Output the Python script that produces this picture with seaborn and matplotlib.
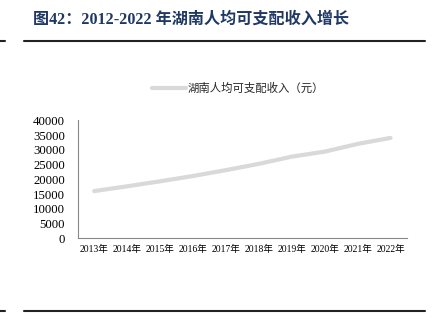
import matplotlib
matplotlib.use("Agg")
import matplotlib.pyplot as plt
import seaborn as sns
import pandas as pd
import numpy as np
from matplotlib.lines import Line2D

years = ["2013年", "2014年", "2015年", "2016年", "2017年", "2018年", "2019年", "2020年", "2021年", "2022年"]
income = [16005, 17622, 19317, 21115, 23103, 25241, 27680, 29380, 31993, 34036]
series_name = "湖南人均可支配收入（元）"
title = "图42：2012-2022 年湖南人均可支配收入增长"
yticks = [0, 5000, 10000, 15000, 20000, 25000, 30000, 35000, 40000]

sns.set_theme(style="white")
fam = ["Liberation Serif", "Noto Sans CJK SC", "DejaVu Sans"]
plt.rcParams["font.family"] = fam

df = pd.DataFrame({"pos": np.arange(len(years)), "income": income, "series": series_name})

fig = plt.figure(figsize=(4.35, 3.25), dpi=100)
ax = fig.add_axes([0.1786, 0.2668, 0.7570, 0.3630])

sns.lineplot(data=df, x="pos", y="income", ax=ax, color="#D9D9D9", linewidth=3.0, legend=False)

ax.set_xlim(-0.5, len(years) - 0.5)
ax.set_ylim(0, 40000)
ax.set_yticks(yticks)
ax.set_yticklabels([str(v) for v in yticks], fontsize=9.2, color="black")
ax.set_xticks(np.arange(-0.5, len(years), 1.0))
ax.set_xticklabels([])
ax.set_xticks(np.arange(len(years)), minor=True)
ax.set_xticklabels(years, minor=True, fontsize=6.9, color="black")
ax.tick_params(axis="x", which="major", direction="in", length=3, width=0.8, color="#888888")
ax.tick_params(axis="x", which="minor", length=0, pad=5)
ax.tick_params(axis="y", direction="in", length=4, width=0.8, color="#888888", pad=9)
ax.set_xlabel("")
ax.set_ylabel("")
for s in ["top", "right"]:
    ax.spines[s].set_visible(False)
for s in ["left", "bottom"]:
    ax.spines[s].set_color("#888888")
    ax.spines[s].set_linewidth(0.8)

# legend
handle = Line2D([0], [0], color="#D9D9D9", linewidth=3.0)
leg = fig.legend([handle], [series_name], loc="center left", bbox_to_anchor=(0.325, 0.728),
                 frameon=False, handlelength=3.0, handletextpad=0.2,
                 prop={"family": fam, "size": 8.2})

# title
fig.text(0.076, 0.938, title, fontsize=11.6, fontweight="bold", color="#1F3864",
         ha="left", va="center", family=fam)

# separator lines
for y in [1 - 41 / 325, 1 - 311 / 325]:
    fig.add_artist(Line2D([24 / 435, 425 / 435], [y, y], color="#222222", linewidth=1.5,
                          transform=fig.transFigure))
    fig.add_artist(Line2D([0, 5 / 435], [y, y], color="#222222", linewidth=1.5,
                          transform=fig.transFigure))

fig.savefig("out.png", dpi=100)
